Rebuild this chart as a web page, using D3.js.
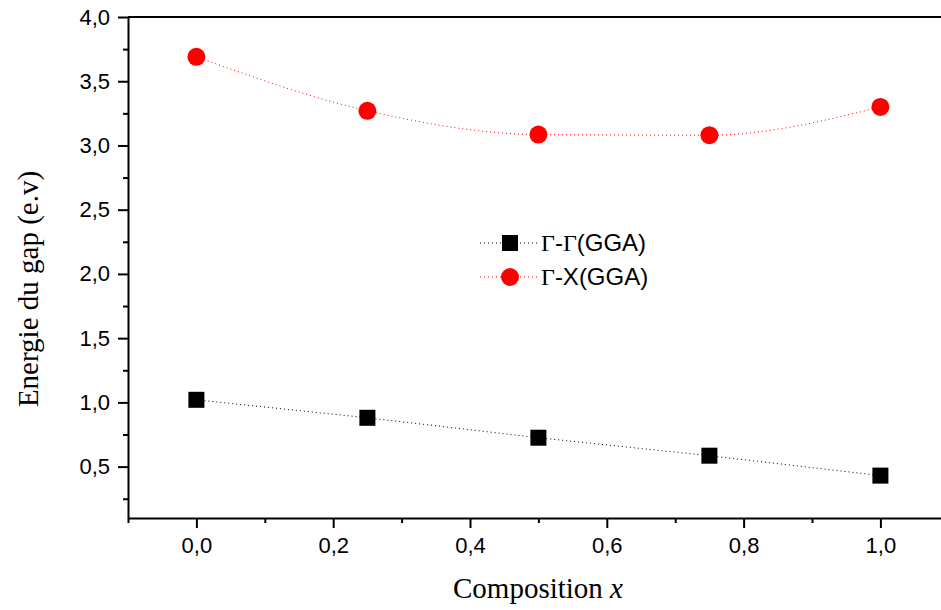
<!DOCTYPE html>
<html>
<head>
<meta charset="utf-8">
<script src="https://cdn.jsdelivr.net/npm/d3@7"></script>
<style>
  body { margin: 0; background: #fff; }
  svg { display: block; }
</style>
</head>
<body>
<div id="chart"></div>
<script>
// data
var compositions = [0, 0.25, 0.5, 0.75, 1.0];
var gammaGamma = [1.02, 0.88, 0.725, 0.585, 0.43];
var gammaX = [3.69, 3.27, 3.085, 3.08, 3.30];
var xTicks = [0, 0.2, 0.4, 0.6, 0.8, 1.0];
var xMinor = [-0.1, 0.1, 0.3, 0.5, 0.7, 0.9, 1.1];
var yTicks = [0.5, 1.0, 1.5, 2.0, 2.5, 3.0, 3.5, 4.0];
var yMinor = [0.25, 0.75, 1.25, 1.75, 2.25, 2.75, 3.25, 3.75];

createchart();

function createchart() {
  var width = 941;
  var height = 610;
  var left = 128, top = 17, bottom = 518;
  var sans = "Arial, 'Liberation Sans', sans-serif";
  var serif = "'Times New Roman', 'Liberation Serif', serif";

  var svg = d3.select("#chart").append("svg")
    .attr("width", width)
    .attr("height", height);

  var x = d3.scaleLinear().domain([-0.1, 1.1]).range([left, left + 1.2 * 684]);
  var y = d3.scaleLinear().domain([0.1, 4.0]).range([bottom, top]);

  var fmt = function(d) { return d3.format(".1f")(d).replace(".", ","); };

  // x axis
  svg.append("g")
    .attr("transform", "translate(0," + bottom + ")")
    .call(d3.axisBottom(x).tickValues(xTicks).tickFormat(fmt).tickSize(10).tickSizeOuter(0).tickPadding(9));
  svg.append("g")
    .attr("transform", "translate(0," + bottom + ")")
    .call(d3.axisBottom(x).tickValues(xMinor).tickFormat("").tickSize(5).tickSizeOuter(0))
    .select(".domain").remove();

  // y axis
  svg.append("g")
    .attr("transform", "translate(" + left + ",0)")
    .call(d3.axisLeft(y).tickValues(yTicks).tickFormat(fmt).tickSize(10).tickSizeOuter(0).tickPadding(8));
  svg.append("g")
    .attr("transform", "translate(" + left + ",0)")
    .call(d3.axisLeft(y).tickValues(yMinor).tickFormat("").tickSize(5).tickSizeOuter(0))
    .select(".domain").remove();

  svg.selectAll(".domain, .tick line").attr("stroke", "#000").attr("stroke-width", 2);
  svg.selectAll(".tick text")
    .attr("font-family", sans)
    .attr("font-size", 22)
    .attr("fill", "#000");

  // top frame line
  svg.append("line")
    .attr("x1", left).attr("x2", x(1.1))
    .attr("y1", top).attr("y2", top)
    .attr("stroke", "#000").attr("stroke-width", 2);

  // axis titles
  var xt = svg.append("text")
    .attr("x", 538).attr("y", 598)
    .attr("text-anchor", "middle")
    .attr("font-family", serif)
    .attr("font-size", 29);
  xt.append("tspan").text("Composition ");
  xt.append("tspan").attr("font-style", "italic").text("x");

  svg.append("text")
    .attr("transform", "translate(38,289) rotate(-90)")
    .attr("text-anchor", "middle")
    .attr("font-family", serif)
    .attr("font-size", 29)
    .text("Energie du gap (e.v)");

  var black = compositions.map(function(c, i) { return [c, gammaGamma[i]]; });
  var red = compositions.map(function(c, i) { return [c, gammaX[i]]; });

  var lineLin = d3.line().x(function(d) { return x(d[0]); }).y(function(d) { return y(d[1]); });
  var lineCurve = d3.line().x(function(d) { return x(d[0]); }).y(function(d) { return y(d[1]); })
    .curve(d3.curveMonotoneX);

  svg.append("path").attr("d", lineLin(black))
    .attr("fill", "none").attr("stroke", "#000").attr("stroke-width", 1)
    .attr("stroke-dasharray", "1,3");
  svg.append("path").attr("d", lineCurve(red))
    .attr("fill", "none").attr("stroke", "#ff0000").attr("stroke-width", 1)
    .attr("stroke-dasharray", "1,3");

  svg.selectAll(".sq").data(black).enter().append("rect")
    .attr("x", function(d) { return x(d[0]) - 8; })
    .attr("y", function(d) { return y(d[1]) - 8; })
    .attr("width", 16).attr("height", 16)
    .attr("fill", "#000");

  svg.selectAll(".dot").data(red).enter().append("circle")
    .attr("cx", function(d) { return x(d[0]); })
    .attr("cy", function(d) { return y(d[1]); })
    .attr("r", 9)
    .attr("fill", "#ff0000");

  // legend
  var legend = [
    { color: "#000", shape: "square", parts: [["\u0393", serif], ["-", sans], ["\u0393", serif], ["(GGA)", sans]], y: 243 },
    { color: "#ff0000", shape: "circle", parts: [["\u0393", serif], ["-X(GGA)", sans]], y: 277 }
  ];
  legend.forEach(function(l) {
    svg.append("line")
      .attr("x1", 480).attr("x2", 538).attr("y1", l.y).attr("y2", l.y)
      .attr("stroke", l.color).attr("stroke-width", 1).attr("stroke-dasharray", "1,3");
    if (l.shape === "square") {
      svg.append("rect").attr("x", 502).attr("y", l.y - 8).attr("width", 16).attr("height", 16).attr("fill", l.color);
    } else {
      svg.append("circle").attr("cx", 510).attr("cy", l.y).attr("r", 9).attr("fill", l.color);
    }
    var t = svg.append("text")
      .attr("x", 541).attr("y", l.y + 8)
      .attr("font-size", 24);
    l.parts.forEach(function(p) {
      t.append("tspan").attr("font-family", p[1]).text(p[0]);
    });
  });
}
</script>
</body>
</html>
